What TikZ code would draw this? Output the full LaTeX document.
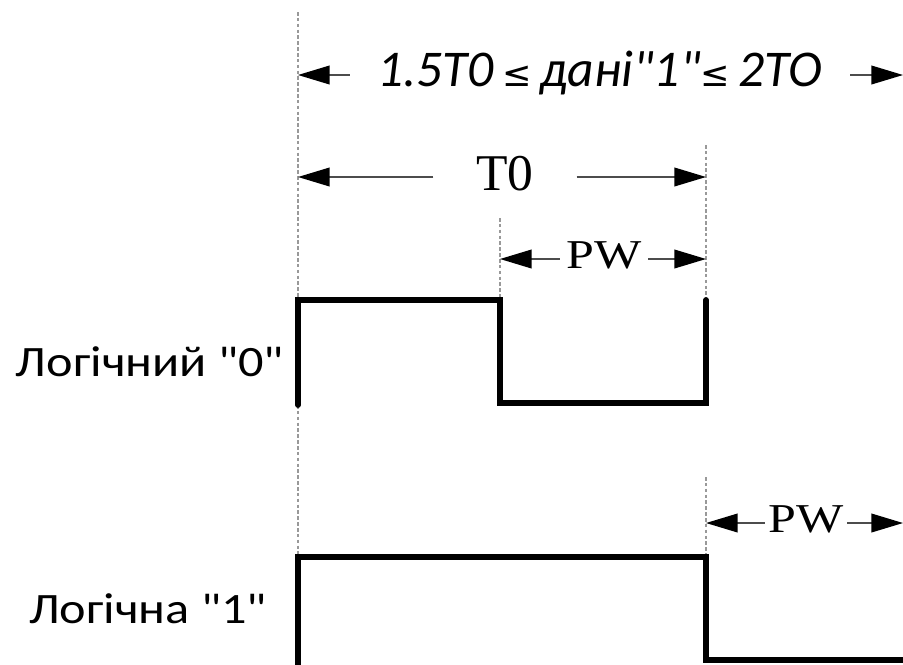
\documentclass[tikz,border=0pt]{standalone}
\usepackage{fontspec}
\setmainfont{Carlito}[Ligatures=TeXOff]
\newfontfamily\timesfont{Liberation Serif}[Ligatures=TeXOff]
\newfontfamily\symfont{DejaVu Sans}
\usetikzlibrary{arrows.meta,positioning}

\newcommand{\wide}[2]{\scalebox{#1}[1]{#2}}

\begin{document}
\begin{tikzpicture}[
    x=0.03cm, y=-0.03cm,
    wave/.style={line width=5pt, line cap=round, line join=miter},
    guide/.style={gray!80, line width=0.9pt, dash pattern=on 3pt off 2pt},
    dim/.style={-{Triangle[length=27pt, width=16pt, color=black]}, gray!60!black, line width=1.2pt},
    dimtext/.style={inner sep=0pt, minimum height=1cm, font=\timesfont},
    caption/.style={font=\fontsize{37}{40}\selectfont, anchor=base}
]
\useasboundingbox (0,0) rectangle (903,664);

% Time marks
\coordinate (s0) at (298,12);
\coordinate (s1) at (298,300);
\coordinate (s2) at (298,405);
\coordinate (s3) at (298,557);
\coordinate (m0) at (500,218);
\coordinate (m1) at (500,300);
\coordinate (e0) at (706,145);
\coordinate (e1) at (706,300);
\coordinate (e2) at (706,477);
\coordinate (e3) at (706,557);

\draw[guide] (s0) -- (s1);
\draw[guide] (s2) -- (s3);
\draw[guide] (m0) -- (m1);
\draw[guide] (e0) -- (e1);
\draw[guide] (e2) -- (e3);

% Overall length
\node[dimtext, minimum width=15cm, font=\fontsize{44}{48}\selectfont\itshape] (top) at (600,73)
    {1.5T0\,{\symfont\fontsize{30}{30}\selectfont\upshape ≤}\,дані"1"{\symfont\fontsize{30}{30}\selectfont\upshape ≤}\,2TO};
\coordinate (topL) at (298,75);
\coordinate (topR) at (903,75);
\draw[dim] (top.west |- topL) -- (topL);
\draw[dim] (top.east |- topR) -- (topR);

% T0
\node[dimtext, minimum width=4.29cm, font=\timesfont\fontsize{44}{48}\selectfont] (t0) at (505,174) {T0};
\coordinate (t0L) at (298,177);
\coordinate (t0R) at (706,177);
\draw[dim] (t0.west |- t0L) -- (t0L);
\draw[dim] (t0.east |- t0R) -- (t0R);

% PW of logic 0
\node[dimtext, minimum width=2.64cm, font=\timesfont\fontsize{35}{38}\selectfont] (pw0) at (604,255) {\wide{1.22}{PW}};
\coordinate (pw0L) at (500,259);
\coordinate (pw0R) at (706,259);
\draw[dim] (pw0.west |- pw0L) -- (pw0L);
\draw[dim] (pw0.east |- pw0R) -- (pw0R);

% PW of logic 1
\node[dimtext, minimum width=2.46cm, font=\timesfont\fontsize{35}{38}\selectfont] (pw1) at (806,519) {\wide{1.22}{PW}};
\coordinate (pw1L) at (706,523);
\coordinate (pw1R) at (903,523);
\draw[dim] (pw1.west |- pw1L) -- (pw1L);
\draw[dim] (pw1.east |- pw1R) -- (pw1R);

% Logic 0
\node[caption] (lab0) at (150,376) {\wide{1.16}{Логічний "0"}};
\draw[wave] (s2) -- (s1) -- (m1) -- (500,403) -- (706,403) -- (e1);

% Logic 1
\node[caption] (lab1) at (148,623) {\wide{1.16}{Логічна "1"}};
\draw[wave, line cap=butt] (298,670) -- (s3) -- (e3) -- (706,660) -- (910,660);

\end{tikzpicture}
\end{document}
